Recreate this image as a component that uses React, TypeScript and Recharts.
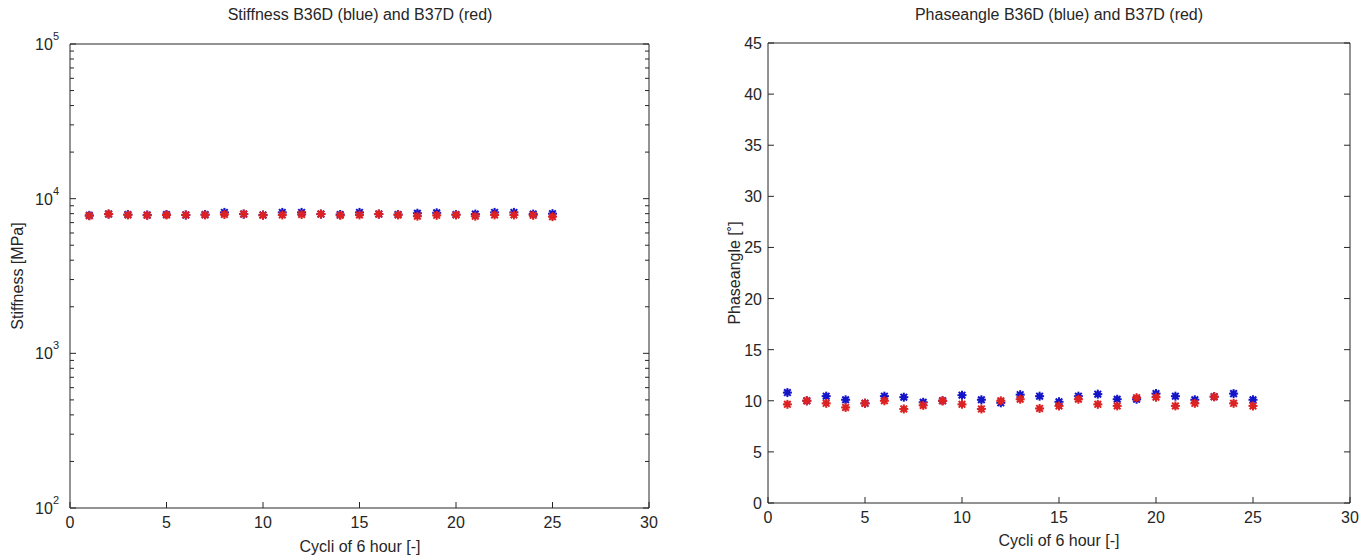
import { ScatterChart, Scatter, XAxis, YAxis } from "recharts";

const cycles = [1, 2, 3, 4, 5, 6, 7, 8, 9, 10, 11, 12, 13, 14, 15, 16, 17, 18, 19, 20, 21, 22, 23, 24, 25];

// stiffness [MPa]
const stiffnessB36D = [7800, 7950, 7900, 7850, 7900, 7850, 7900, 8150, 7950, 7850, 8150, 8150, 7950, 7900, 8150, 7950, 7900, 8050, 8100, 7900, 7950, 8150, 8150, 7950, 8000];
const stiffnessB37D = [7750, 7950, 7850, 7800, 7850, 7850, 7850, 7900, 7950, 7800, 7850, 7900, 7950, 7800, 7850, 7950, 7850, 7700, 7800, 7850, 7700, 7850, 7850, 7800, 7650];

// phase angle [deg]
const phaseB36D = [10.8, 10.0, 10.45, 10.1, 9.75, 10.45, 10.35, 9.85, 10.0, 10.55, 10.1, 9.8, 10.6, 10.45, 9.9, 10.45, 10.65, 10.15, 10.15, 10.7, 10.45, 10.1, 10.4, 10.7, 10.1];
const phaseB37D = [9.65, 10.0, 9.75, 9.35, 9.75, 10.0, 9.2, 9.55, 10.0, 9.65, 9.2, 10.0, 10.15, 9.25, 9.5, 10.15, 9.65, 9.5, 10.3, 10.35, 9.5, 9.75, 10.4, 9.75, 9.5];

const xTicks = [0, 5, 10, 15, 20, 25, 30];
const stiffnessDecades = [100, 1000, 10000, 100000];
const phaseTicks = [0, 5, 10, 15, 20, 25, 30, 35, 40, 45];

const FONT = '"Liberation Sans", Arial, sans-serif';
const INK = "#262626";
const BLUE = "#1414c8";
const RED = "#dc2323";

// log axis ticks: decades + minor 2..9
const stiffnessTicks: number[] = [];
stiffnessDecades.forEach((d, i) => {
  stiffnessTicks.push(d);
  if (i < stiffnessDecades.length - 1) {
    for (let m = 2; m <= 9; m++) stiffnessTicks.push(d * m);
  }
});

const isDecade = (v: number) => {
  const l = Math.log10(v);
  return Math.abs(l - Math.round(l)) < 1e-9;
};

const leftTick = (log: boolean) => (p: any) => {
  const { x, y, payload } = p;
  const v = payload.value;
  const major = !log || isDecade(v);
  const len = major ? 6 : 4;
  return (
    <g>
      <line x1={x} x2={x + len} y1={y} y2={y} stroke={INK} />
      {major &&
        (log ? (
          <text x={x - 11} y={y + 6} textAnchor="end" fontSize={16} fill={INK} fontFamily={FONT}>
            10
            <tspan dy={-10} fontSize={11}>
              {Math.round(Math.log10(v))}
            </tspan>
          </text>
        ) : (
          <text x={x - 6} y={y + 6} textAnchor="end" fontSize={16} fill={INK} fontFamily={FONT}>
            {v}
          </text>
        ))}
    </g>
  );
};

const rightTick = (log: boolean) => (p: any) => {
  const { x, y, payload } = p;
  const major = !log || isDecade(payload.value);
  const len = major ? 6 : 4;
  return <line x1={x - len} x2={x} y1={y} y2={y} stroke={INK} />;
};

const bottomTick = (p: any) => {
  const { x, y, payload } = p;
  return (
    <g>
      <line x1={x} x2={x} y1={y} y2={y - 6} stroke={INK} />
      <text x={x} y={y + 20} textAnchor="middle" fontSize={16} fill={INK} fontFamily={FONT}>
        {payload.value}
      </text>
    </g>
  );
};

const topTick = (p: any) => {
  const { x, y } = p;
  return <line x1={x} x2={x} y1={y} y2={y + 6} stroke={INK} />;
};

const asterisk = (color: string) => (p: any) => {
  const { cx, cy } = p;
  const r = 4.5;
  const d = 3.3;
  return (
    <g stroke={color} strokeWidth={2}>
      <circle cx={cx} cy={cy} r={3} fill={color} stroke="none" />
      <line x1={cx - r} x2={cx + r} y1={cy} y2={cy} />
      <line x1={cx} x2={cx} y1={cy - r} y2={cy + r} />
      <line x1={cx - d} x2={cx + d} y1={cy - d} y2={cy + d} />
      <line x1={cx - d} x2={cx + d} y1={cy + d} y2={cy - d} />
    </g>
  );
};

const toPoints = (values: number[]) => cycles.map((c, i) => ({ cycle: c, value: values[i] }));

type PanelProps = {
  left: number;
  width: number;
  margin: { top: number; right: number; bottom: number; left: number };
  yWidth: number;
  log: boolean;
  yDomain: [number, number];
  yTicks: number[];
  blue: number[];
  red: number[];
};

function Panel(props: PanelProps) {
  const { left, width, margin, yWidth, log, yDomain, yTicks, blue, red } = props;
  const axisLine = { stroke: INK, strokeWidth: 1 };
  return (
    <div style={{ position: "absolute", left, top: 0 }}>
      <ScatterChart width={width} height={556} margin={margin}>
        <XAxis
          xAxisId="b"
          dataKey="cycle"
          type="number"
          domain={[0, 30]}
          ticks={xTicks}
          interval={0}
          allowDataOverflow
          height={30}
          axisLine={axisLine}
          tickLine={false}
          tickSize={0}
          tickMargin={0}
          tick={bottomTick}
        />
        <XAxis
          xAxisId="t"
          orientation="top"
          type="number"
          domain={[0, 30]}
          ticks={xTicks}
          interval={0}
          allowDataOverflow
          height={1}
          axisLine={axisLine}
          tickLine={false}
          tickSize={0}
          tickMargin={0}
          tick={topTick}
        />
        <YAxis
          yAxisId="l"
          dataKey="value"
          type="number"
          scale={log ? "log" : "linear"}
          domain={yDomain}
          ticks={yTicks}
          interval={0}
          allowDataOverflow
          width={yWidth}
          axisLine={axisLine}
          tickLine={false}
          tickSize={0}
          tickMargin={0}
          tick={leftTick(log)}
        />
        <YAxis
          yAxisId="r"
          orientation="right"
          type="number"
          scale={log ? "log" : "linear"}
          domain={yDomain}
          ticks={yTicks}
          interval={0}
          allowDataOverflow
          width={1}
          axisLine={axisLine}
          tickLine={false}
          tickSize={0}
          tickMargin={0}
          tick={rightTick(log)}
        />
        <Scatter
          xAxisId="b"
          yAxisId="l"
          data={toPoints(blue)}
          fill={BLUE}
          shape={asterisk(BLUE)}
          isAnimationActive={false}
        />
        <Scatter
          xAxisId="b"
          yAxisId="l"
          data={toPoints(red)}
          fill={RED}
          shape={asterisk(RED)}
          isAnimationActive={false}
        />
      </ScatterChart>
    </div>
  );
}

const labelStyle = (x: number, y: number, rotate = false): React.CSSProperties => ({
  position: "absolute",
  left: x,
  top: y,
  transform: `translate(-50%, -50%)${rotate ? " rotate(-90deg)" : ""}`,
  whiteSpace: "nowrap",
  fontFamily: FONT,
  fontSize: 16,
  color: INK,
  lineHeight: 1,
});

export default function App() {
  return (
    <div style={{ position: "absolute", left: 0, top: 0, width: 1359, height: 556, background: "#fff", overflow: "hidden" }}>
      <Panel
        left={0}
        width={680}
        margin={{ top: 43, right: 30, bottom: 18, left: 0 }}
        yWidth={70}
        log
        yDomain={[100, 100000]}
        yTicks={stiffnessTicks}
        blue={stiffnessB36D}
        red={stiffnessB37D}
      />
      <Panel
        left={680}
        width={679}
        margin={{ top: 42, right: 8, bottom: 23, left: 0 }}
        yWidth={88}
        log={false}
        yDomain={[0, 45]}
        yTicks={phaseTicks}
        blue={phaseB36D}
        red={phaseB37D}
      />
      <div style={labelStyle(360, 15)}>Stiffness B36D (blue) and B37D (red)</div>
      <div style={labelStyle(1059, 15)}>Phaseangle B36D (blue) and B37D (red)</div>
      <div style={labelStyle(360, 547)}>Cycli of 6 hour [-]</div>
      <div style={labelStyle(1059, 541)}>Cycli of 6 hour [-]</div>
      <div style={labelStyle(18, 276, true)}>Stiffness [MPa]</div>
      <div style={labelStyle(735, 273, true)}>Phaseangle [˚]</div>
    </div>
  );
}
